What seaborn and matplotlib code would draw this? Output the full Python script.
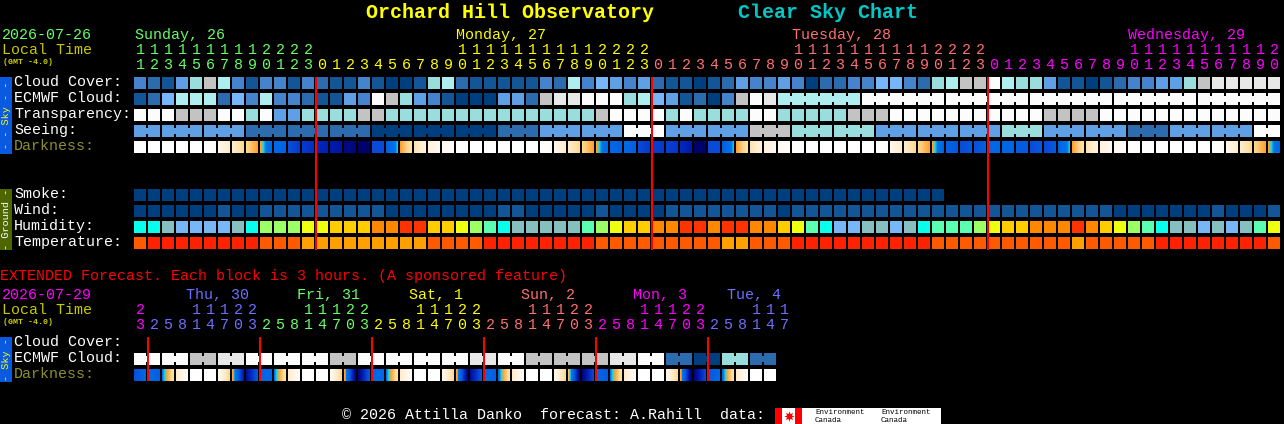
import numpy as np
import matplotlib
matplotlib.use("Agg")
import matplotlib.pyplot as plt
import seaborn as sns
from matplotlib.colors import ListedColormap, LinearSegmentedColormap
from matplotlib.patches import Rectangle

W, H = 1284, 424
X0 = 134
PITCH = 14

# cloud style scale, 0 = darkest blue, 10 = white
SKY_COLORS = ["#003f7f", "#135697", "#2c6bad", "#4584cc", "#5f9fe6", "#78b6fb",
              "#aeeeee", "#99dddd", "#c3c3c3", "#e8e8e8", "#fcfcfc"]
HUMIDITY_COLORS = ["#78b6f6", "#85bfbf", "#08ffec", "#5affb0", "#9dff66", "#eeff10",
                   "#ffcc00", "#ff8800", "#ff3300"]
TEMP_COLORS = ["#ff2200", "#ff5a00", "#ffa000"]
# darkness scale runs 0 (day) to 10 (deep night), twilight is squeezed in around 4-5
DARK_STOPS = [(0.0, "#ffffff"), (0.1, "#fff8ee"), (0.2, "#ffeccc"), (0.3, "#ffd890"),
              (0.4, "#ffa030"), (0.45, "#18d8e0"), (0.5, "#0074ea"), (0.6, "#0068e6"),
              (0.7, "#0a4ad8"), (0.8, "#0028c0"), (0.9, "#000c98"), (1.0, "#000060")]

cloud_cover = [3, 2, 1, 4, 7, 8, 6, 3, 1, 3, 3, 1, 3, 2, 1, 1, 3, 1, 0, 0, 1,
               7, 6, 2, 1, 1, 1, 1, 1, 3, 2, 6, 3, 5, 4, 3, 4, 2, 1, 1, 0, 1, 2, 4, 3, 3,
               4, 3, 0, 2, 2, 3, 3, 5, 5, 3, 2, 7, 6, 8, 8, 10, 6, 7, 7, 4, 1, 1, 0, 1,
               2, 3, 3, 4, 4, 7, 8, 9, 9, 9, 9, 9]
ecmwf_cloud = [1, 2, 5, 6, 6, 6, 2, 5, 3, 6, 3, 3, 2, 1, 1, 4, 3, 10, 8, 7, 4,
               3, 1, 0, 0, 0, 4, 4, 2, 8, 9, 9, 10, 10, 10, 7, 6, 5, 4, 1, 2, 0, 3, 8, 10, 9,
               6, 6, 6, 6, 6, 6,
               10, 10, 10, 10, 10, 10, 10, 10, 10, 10, 10, 10, 10, 10, 10,
               10, 10, 10, 10, 10, 10, 10, 10, 10, 10, 10, 10, 10, 10, 10]
ecmwf_runs = [1] * 46 + [6] * 6
transparency = [10, 10, 10, 8, 8, 8, 10, 10, 7, 10, 4, 4, 7, 7, 7, 7, 8, 8, 7, 7, 7,
                7, 7, 7, 7, 7, 7, 7, 7, 7, 7, 7, 7, 8, 10, 10, 10, 10, 7, 10, 7, 7, 7, 7,
                10, 10, 7, 7, 7, 7, 7, 8, 8, 8,
                10, 10, 10, 10, 10, 10, 10, 10, 10, 10, 10, 8, 8, 8, 8,
                10, 10, 10, 10, 10, 10, 10, 10, 10, 10, 10, 10, 10]
seeing_blocks = [4, 4, 4, 2, 2, 2, 0, 0, 0, 2, 4, 4, 10, 4, 4, 8, 7, 7, 4, 4, 4, 7, 4, 4,
                 2, 4, 4, 10]
seeing_runs = [2] + [3] * 26 + [2]
dark_left = [0, 0, 0, 0, 0, 0, 1, 2, 3, 4, 6, 6.8, 7.5, 8, 8.5, 9.3, 9.8, 7, 6.5, 4, 2.5, 1.5, 1,
             0, 0, 0, 0, 0, 0, 0, 1, 2, 3, 4, 6, 6, 7, 7.3, 7.3, 8, 9.8, 7, 6.5, 4, 2.5, 1.5, 1,
             0, 0, 0, 0, 0, 0, 0, 1, 2, 3, 4, 6.2, 7, 6.8, 6, 6, 6.3, 7, 7, 6.3, 4, 2.5, 1.5, 1,
             0, 0, 0, 0, 0, 0, 0, 1, 2, 3, 4]
dark_right = [0, 0, 0, 0, 0, .5, 2, 3, 4, 6, 6.2, 7.5, 7.8, 8.3, 8.7, 9.5, 9.8, 7, 4.6, 2.5, 1.5, 1, .3,
              0, 0, 0, 0, 0, 0, .5, 2, 3, 4, 6, 6.3, 6.3, 7.5, 7.5, 7.6, 8.5, 9.8, 7, 4.6, 2.5, 1.5, 1, .3,
              0, 0, 0, 0, 0, 0, .5, 2, 3, 4, 6.2, 6.5, 6.5, 6.3, 6, 6, 6.5, 6.5, 6.5, 4.6, 2.5, 1.5, 1, .3,
              0, 0, 0, 0, 0, 0, .5, 2, 3, 4, 6]
smoke = [0] * 58 + [np.nan] * 24
wind = [0, 0, 0, 0, 0, 0, 1, 0, 0, 1, 1, 1, 1, 1, 1, 1, 1, 1, 0, 0, 0,
        0, 0, 0, 0, 0, 1, 1, 0, 0, 0, 0, 0, 1, 0, 0, 0, 0, 1, 1, 1, 1, 1, 1, 1, 1,
        0, 1, 1, 1, 1, 1, 1, 1, 1, 1, 1, 1, 1, 1, 1, 1, 1, 1, 1, 1, 1, 1, 1, 1,
        0, 0, 0, 0, 0, 0, 0, 1, 0, 0, 0, 1]
humidity = [2, 2, 1, 0, 0, 0, 0, 1, 2, 4, 4, 4, 5, 5, 6, 6, 6, 7, 7, 8, 8,
            6, 6, 5, 4, 3, 2, 1, 1, 1, 1, 1, 3, 4, 5, 6, 6, 7, 7, 8, 8, 7, 8, 8, 7, 7,
            6, 5, 3, 2, 0, 0, 1, 1, 0, 1, 2, 3, 3, 3, 4, 5, 6, 6, 7, 7, 7, 8, 7, 6,
            5, 4, 3, 2, 1, 1, 0, 1, 0, 1, 3, 5]
temperature = [1, 0, 0, 0, 0, 0, 0, 0, 0, 1, 1, 1, 2, 2, 2, 2, 2, 2, 2, 2, 2,
               1, 1, 1, 1, 0, 0, 0, 0, 0, 0, 0, 0, 1, 1, 1, 1, 1, 1, 1, 1, 1, 2, 2, 1, 1,
               1, 0, 0, 0, 0, 0, 0, 0, 0, 0, 0, 1, 1, 1, 1, 1, 1, 1, 1, 1, 1, 2, 1, 1,
               1, 1, 1, 0, 0, 0, 0, 0, 0, 0, 0, 1]
hours = list(range(11, 24)) + list(range(24)) + list(range(24)) + list(range(21))
hour_day_lengths = [13, 24, 24, 21]
hour_day_colors = ["#66ff66", "#ffff00", "#ff7070", "#ff00ff"]
day_labels = ["Sunday, 26", "Monday, 27", "Tuesday, 28", "Wednesday, 29"]
day_label_x = [135, 456, 792, 1128]

ext_ecmwf = [10, 10, 10, 10, 8, 8, 9, 9, 10, 10, 10, 10, 10, 10, 8, 8, 10, 10, 10, 10, 10, 10, 10, 10,
             9, 9, 10, 10, 8, 8, 8, 8, 8, 8, 9, 9, 10, 10, 2, 2, 0, 0, 7, 7, 2, 2]
ext_runs = [2] * 23
ext_dark_left = [6.8, 6, 5, 2, 0, 0, .8, 4, 9, 6.2, 5, 2, 0, 0, .8, 4, 9.5, 6, 5, 2, 0, 0, 1, 4,
                 9, 6, 5.2, 2, 0, 0, 1, 3.5, 9.5, 6, 5, 2, 0, 0, 1, 4, 9.5, 6.5, 5.2, 2, 0, 0]
ext_dark_right = [6, 6.3, 2.5, .5, 0, 0, 3, 8.5, 6.5, 6, 2.5, .5, 0, 0, 3, 9.5, 6.5, 6, 2.5, .5, 0, 0, 3, 9.5,
                  6.5, 6.3, 2.5, .5, 0, 0, 3, 9.5, 7, 6.5, 2.5, .5, 0, 0, 3, 10, 7, 6, 2.5, .5, 0, 0]
ext_hours = [23] + [2, 5, 8, 11, 14, 17, 20, 23] * 5 + [2, 5, 8, 11, 14, 17]
ext_day_lengths = [1, 8, 8, 8, 8, 8, 6]
ext_day_colors = ["#ff00ff", "#6f6fff", "#66ff66", "#ffff00", "#ff7070", "#ff00ff", "#6f6fff"]
ext_day_labels = ["Thu, 30", "Fri, 31", "Sat, 1", "Sun, 2", "Mon, 3", "Tue, 4"]
ext_day_label_x = [186, 297, 409, 521, 633, 727]

sns.set_theme(style="dark", rc={"figure.facecolor": "black", "axes.facecolor": "black"})
plt.rcParams["font.family"] = ["Liberation Mono", "DejaVu Sans Mono"]
plt.rcParams["text.hinting"] = "native"

fig = plt.figure(figsize=(W / 100, H / 100), dpi=100, facecolor="black")


def block_row(values, top, colors, runs=None):
    # axes is 1px bigger than the blocks on each side, the heatmap grid lines eat that
    n = len(values)
    ax = fig.add_axes([(X0 - 1) / W, 1 - (top + 13) / H, n * PITCH / W, 14 / H])
    sns.heatmap(np.array([values], dtype=float), ax=ax, cmap=ListedColormap(colors),
                vmin=-0.5, vmax=len(colors) - 0.5, cbar=False, xticklabels=False,
                yticklabels=False, linewidths=1.44, linecolor="black")
    if runs:
        start = 0
        for run in runs:
            for i in range(start + 1, start + run):
                ax.add_patch(Rectangle((i - 2 / PITCH, 4 / PITCH), 4 / PITCH, 6 / PITCH,
                                       color=colors[int(values[i])], lw=0))
            start += run
    return ax


def dark_row(left, right, top):
    # each block gets one column per pixel so the shading runs left to right
    grid = []
    for a, b in zip(left, right):
        grid.extend(np.linspace(a, b, PITCH - 2))
        grid.extend([np.nan, np.nan])
    ax = fig.add_axes([X0 / W, 1 - (top + 12) / H, len(left) * PITCH / W, 12 / H])
    cmap = LinearSegmentedColormap.from_list("dark", DARK_STOPS, N=512)
    sns.heatmap(np.array([grid]), ax=ax, cmap=cmap, vmin=0, vmax=10, cbar=False,
                xticklabels=False, yticklabels=False)
    return ax


seeing = np.repeat(seeing_blocks, seeing_runs)

block_row(cloud_cover, 77, SKY_COLORS)
block_row(ecmwf_cloud, 93, SKY_COLORS, ecmwf_runs)
block_row(transparency, 109, SKY_COLORS)
block_row(seeing, 125, SKY_COLORS, seeing_runs)
dark_row(dark_left, dark_right, 141)
block_row(smoke, 189, SKY_COLORS)
block_row(wind, 205, SKY_COLORS)
block_row(humidity, 221, HUMIDITY_COLORS)
block_row(temperature, 237, TEMP_COLORS)
block_row(ext_ecmwf, 353, SKY_COLORS, ext_runs)
dark_row(ext_dark_left, ext_dark_right, 369)

# overlay in pixel coordinates for the text, side bars and midnight lines
over = fig.add_axes([0, 0, 1, 1], zorder=10)
over.set_xlim(0, W)
over.set_ylim(H, 0)
over.axis("off")


def label(x, y, s, color="white", size=10.8, **kw):
    over.text(x, y, s, color=color, fontsize=size, va="center", **kw)


def hour_labels(hrs, lengths, colors, tens_y, units_y):
    hour_colors = np.repeat(colors, lengths)
    prev = hrs[0]
    for i, h in enumerate(hrs):
        x = X0 + 6 + PITCH * i
        if h >= 10:
            label(x, tens_y, str(h // 10), hour_colors[i], ha="center")
        label(x, units_y, str(h % 10), hour_colors[i], ha="center")
        if h < prev:
            yield i
        prev = h


OLIVE = "#c8c800"
DIM = "#8f8f30"

label(366, 12, "Orchard Hill Observatory", "#ffff00", 14.4, fontweight="bold")
label(738, 12, "Clear Sky Chart", "#00c8c8", 14.4, fontweight="bold")

label(2, 35, "2026-07-26", "#66ff66")
label(2, 50, "Local Time", OLIVE)
label(3, 62, "(GMT -4.0)", OLIVE, 6, fontweight="bold")
for x, s, c in zip(day_label_x, day_labels, hour_day_colors):
    label(x, 35, s, c)
midnights = [i for i in hour_labels(hours, hour_day_lengths, hour_day_colors, 50, 65)]
over.vlines([X0 + PITCH * i for i in midnights], 77, 250, color="#ff0000", lw=1.44)

for y, s, c in [(82, "Cloud Cover:", "white"), (98, "ECMWF Cloud:", "white"),
                (114, "Transparency:", "white"), (130, "Seeing:", "white"),
                (146, "Darkness:", DIM), (194, "Smoke:", "white"), (210, "Wind:", "white"),
                (226, "Humidity:", "white"), (242, "Temperature:", "white"),
                (342, "Cloud Cover:", "white"), (358, "ECMWF Cloud:", "white"),
                (374, "Darkness:", DIM)]:
    label(14, y, s, c)

over.add_patch(Rectangle((0, 77), 12, 77, color="#0a5ae0", lw=0))
over.add_patch(Rectangle((0, 189), 12, 61, color="#4d6600", lw=0))
over.add_patch(Rectangle((0, 337), 12, 45, color="#0a5ae0", lw=0))
over.text(6, 115.5, "- - Sky - -", color="#ffff00", fontsize=7.4, rotation=90, ha="center", va="center")
over.text(6, 219.5, "- Ground -", color="white", fontsize=7.4, rotation=90, ha="center", va="center")
over.text(6, 359.5, "- Sky -", color="#ffff00", fontsize=7.4, rotation=90, ha="center", va="center")

label(0, 276, "EXTENDED Forecast. Each block is 3 hours. (A sponsored feature)", "#ff0000")
label(2, 295, "2026-07-29", "#ff00ff")
label(2, 310, "Local Time", OLIVE)
label(3, 322, "(GMT -4.0)", OLIVE, 6, fontweight="bold")
for x, s, c in zip(ext_day_label_x, ext_day_labels, ext_day_colors[1:]):
    label(x, 295, s, c)
ext_midnights = [i for i in hour_labels(ext_hours, ext_day_lengths, ext_day_colors, 310, 325)]
over.vlines([X0 + PITCH * i for i in ext_midnights], 337, 381, color="#ff0000", lw=1.44)

label(342, 415, "\u00a9 2026 Attilla Danko  forecast: A.Rahill  data:")
over.add_patch(Rectangle((775, 408), 166, 16, color="white", lw=0))
over.add_patch(Rectangle((775, 408), 7, 16, color="#ff0000", lw=0))
over.add_patch(Rectangle((795, 408), 7, 16, color="#ff0000", lw=0))
over.scatter([788.5], [416], marker=(8, 1, 0), s=55, color="#ff0000", lw=0)
for x in (815, 881):
    over.text(x, 412, "Environment", color="black", fontsize=5.4, va="center")
    over.text(x, 420, "Canada", color="black", fontsize=5.4, va="center")

fig.savefig("out.png", dpi=100, facecolor="black")
